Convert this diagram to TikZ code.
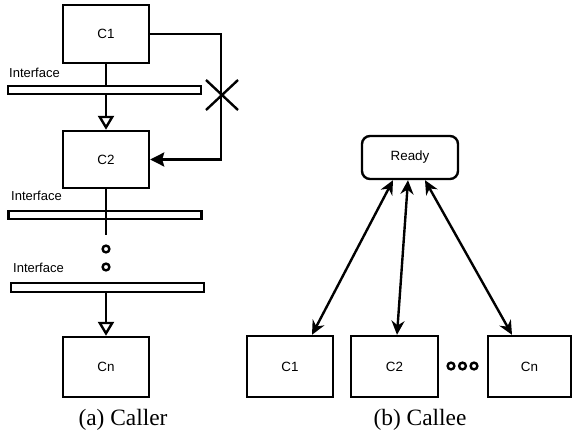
\documentclass[tikz,border=0pt]{standalone}
\usepackage{fontspec}
\setmainfont{Liberation Serif}
\setsansfont{Liberation Sans}
\usetikzlibrary{arrows.meta, positioning}

\tikzset{
  comp/.style={draw, line width=1.2pt, minimum width=43pt, minimum height=29pt, inner sep=0pt, font=\sffamily\fontsize{6.7}{7}\selectfont},
  ifbar/.style={draw, line width=1.2pt, minimum width=96.5pt, minimum height=4pt, inner sep=0pt},
  hole/.style={draw, circle, line width=1.2pt, minimum size=3.4pt, inner sep=0pt},
  iflabel/.style={anchor=west, inner sep=0pt, font=\sffamily\fontsize{6.5}{7}\selectfont},
  caption/.style={font=\fontsize{11.7}{13}\selectfont}
}

\begin{document}
\begin{tikzpicture}[>=Stealth, x=0.5pt, y=-0.5pt, line width=1.2pt]
\useasboundingbox (0,0) rectangle (572,439);

% (a) Caller: C1 -> C2 -> ... -> Cn through interfaces
\node[comp] (c1L) at (106,34) {C1};
\node[iflabel] (if1) at (8,73) {Interface};
\node[ifbar] (bar1) at (104.5,90) {};
\node[comp, minimum height=28.5pt] (c2L) at (106,159.5) {C2};
\node[iflabel] (if2) at (10,196) {Interface};
\node[ifbar] (bar2) at (105,215) {};
\node[hole] (h1) at (106,249) {};
\node[hole] (h2) at (106,267) {};
\node[iflabel] (if3) at (12,268) {Interface};
\node[ifbar, minimum height=4.5pt] (bar3) at (107.5,287.5) {};
\node[comp, minimum height=30pt] (cnL) at (106,367) {Cn};
\coordinate (stub) at (106,235);
\coordinate (xmark) at (221,95);

\draw (c1L.south) -- (c1L.south |- bar1.north);
\draw[-{Triangle[open, length=7pt, width=8pt]}] (c1L.south |- bar1.south) -- (c2L.north);
\draw (c2L.south) -- (stub);
\draw[-{Triangle[open, length=7pt, width=8pt]}] (cnL.north |- bar3.south) -- (cnL.north);

% direct call is not allowed
\draw[-{Stealth[length=7pt, width=7pt, inset=1pt]}] (c1L.east) -| (xmark) |- (c2L.east);
\draw ([shift={(-15,-15)}]xmark) -- ([shift={(17,15)}]xmark);
\draw ([shift={(-15,15)}]xmark) -- ([shift={(17,-15)}]xmark);

\node[caption] (capa) at (123,420) {(a) Caller};

% (b) Callee: every component talks to Ready
\node[comp, rounded corners=4pt, minimum width=48pt, minimum height=21.5pt] (ready) at (410,157.5) {Ready};
\node[comp, minimum height=30.5pt] (c1R) at (290,366.5) {C1};
\node[comp, minimum width=43.5pt, minimum height=30.5pt] (c2R) at (394.5,366.5) {C2};
\node[comp, minimum width=41.5pt, minimum height=30.5pt] (cnR) at (529.5,366.5) {Cn};
\node[hole] (d1) at (451,366) {};
\node[hole] (d2) at (462.5,366) {};
\node[hole] (d3) at (474,366) {};

\draw[{Stealth[length=7pt, width=6.5pt]}-{Stealth[length=7pt, width=6.5pt]}] ([xshift=-8.5pt]ready.south) -- ([xshift=11pt]c1R.north);
\draw[{Stealth[length=7pt, width=6.5pt]}-{Stealth[length=7pt, width=6.5pt]}] ([xshift=-1pt]ready.south) -- ([xshift=1.25pt]c2R.north);
\draw[{Stealth[length=7pt, width=6.5pt]}-{Stealth[length=7pt, width=6.5pt]}] ([xshift=7.5pt]ready.south) -- ([xshift=-8.75pt]cnR.north);

\node[caption] (capb) at (420,420) {(b) Callee};
\end{tikzpicture}
\end{document}
